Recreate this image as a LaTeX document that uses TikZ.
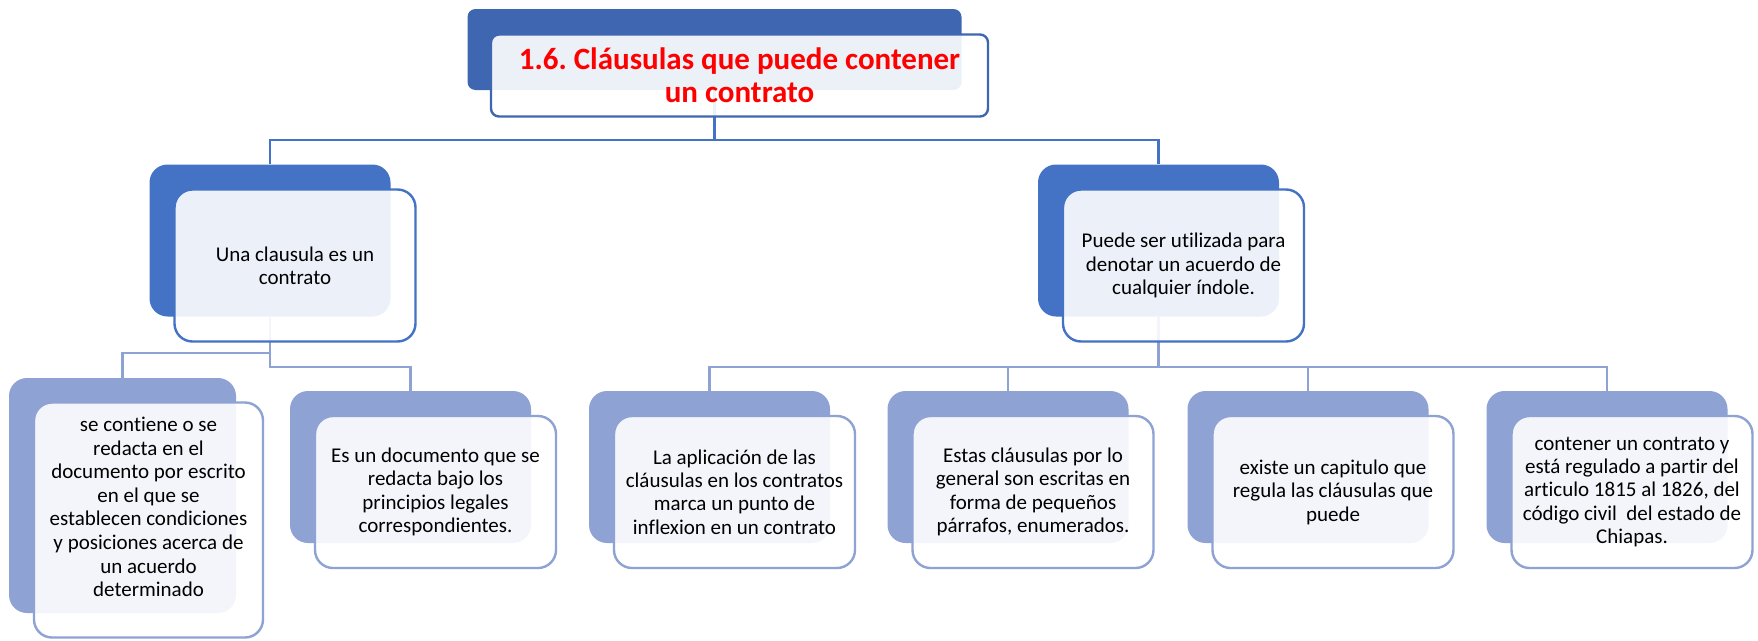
\documentclass[tikz,border=0pt]{standalone}
\usepackage{fontspec}
\setmainfont{Carlito}[Ligatures=NoCommon]
\frenchspacing
\definecolor{topblue}{RGB}{63,103,177}
\definecolor{midblue}{RGB}{68,114,196}
\definecolor{lowblue}{RGB}{143,162,212}

\begin{document}
\begin{tikzpicture}[x=1pt,y=-1pt,
        back/.style={rounded corners=18pt,minimum width=241pt,minimum height=152pt,inner sep=0pt},
        front/.style={back,draw,line width=2.4pt,fill=white,fill opacity=0.9,text opacity=1,align=center,font=\fontsize{21}{23.4}\selectfont},
        link/.style={line width=2.2pt}]
            \useasboundingbox (0,0) rectangle (1758,640);
            % back boxes
            \node[back,fill=topblue,rounded corners=8pt,minimum width=494pt,minimum height=81pt] (topB) at (714.5,49.5) {};
            \node[back,fill=midblue] (unaB) at (270,240.5) {};
            \node[back,fill=midblue] (puedeB) at (1158.5,240.5) {};
            \node[back,fill=lowblue,minimum width=227pt,minimum height=235pt] (contieneB) at (122.5,495.5) {};
            \node[back,fill=lowblue] (documentoB) at (410.5,467) {};
            \node[back,fill=lowblue] (aplicacionB) at (709.5,467) {};
            \node[back,fill=lowblue] (estasB) at (1008,467) {};
            \node[back,fill=lowblue] (existeB) at (1308,467) {};
            \node[back,fill=lowblue] (contenerB) at (1607,467) {};
            % connectors
            \draw[link,midblue] (topB.south)--++(0,50)-|(unaB.north);
            \draw[link,midblue] (topB.south)--++(0,50)-|(puedeB.north);
            \draw[link,lowblue] (unaB.south)--++(0,36.5)-|(contieneB.north);
            \draw[link,lowblue] (unaB.south)--++(0,50.5)-|(documentoB.north);
            \draw[link,lowblue] (puedeB.south)--++(0,50.5)-|(aplicacionB.north);
            \draw[link,lowblue] (puedeB.south)--++(0,50.5)-|(estasB.north);
            \draw[link,lowblue] (puedeB.south)--++(0,50.5)-|(existeB.north);
            \draw[link,lowblue] (puedeB.south)--++(0,50.5)-|(contenerB.north);
            % front boxes
            \node[front,draw=topblue,rounded corners=8pt,minimum width=497pt,minimum height=82pt,text=red,font=\bfseries\fontsize{31}{33.3}\selectfont] (topF) at ([shift={(25,26)}]topB.center) {1.6. Cláusulas que puede contener\\un contrato};
            \node[front,draw=midblue] (unaF) at ([shift={(25,25)}]unaB.center) {Una clausula es un\\contrato};
            \node[front,draw=midblue] (puedeF) at ([shift={(25,25)}]puedeB.center) {Puede ser utilizada para\\denotar un acuerdo de\\cualquier índole.};
            \node[front,draw=lowblue,minimum width=229pt,minimum height=235pt] (contieneF) at ([shift={(26,24.5)}]contieneB.center) {};
            \node[align=center,font=\fontsize{21}{23.6}\selectfont] (contieneT) at ([yshift=13pt]contieneF.center) {se contiene o se\\redacta en el\\documento por escrito\\en el que se\\establecen condiciones\\y posiciones acerca de\\un acuerdo\\determinado};
            \node[front,draw=lowblue] (documentoF) at ([shift={(25,25)}]documentoB.center) {Es un documento que se\\redacta bajo los\\principios legales\\correspondientes.};
            \node[front,draw=lowblue] (aplicacionF) at ([shift={(25,25)}]aplicacionB.center) {La aplicación de las\\cláusulas en los contratos\\marca un punto de\\inflexion en un contrato};
            \node[front,draw=lowblue] (estasF) at ([shift={(25,25)}]estasB.center) {Estas cláusulas por lo\\general son escritas en\\forma de pequeños\\párrafos, enumerados.};
            \node[front,draw=lowblue] (existeF) at ([shift={(25,25)}]existeB.center) {existe un capitulo que\\regula las cláusulas que\\puede};
            \node[front,draw=lowblue] (contenerF) at ([shift={(25,25)}]contenerB.center) {contener un contrato y\\está regulado a partir del\\articulo 1815 al 1826, del\\código civil\ \ del estado de\\Chiapas.};
        \end{tikzpicture}
\end{document}
